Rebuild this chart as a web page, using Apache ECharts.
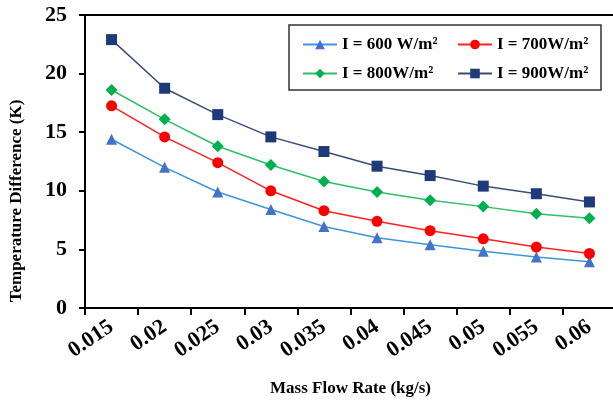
<!DOCTYPE html>
<html>
<head>
<meta charset="utf-8">
<script src="https://cdn.jsdelivr.net/npm/echarts@6/dist/echarts.min.js"></script>
<style>
  html, body { margin: 0; padding: 0; background: #fff; }
  #chart { width: 613px; height: 403px; }
</style>
</head>
<body>
<div id="chart"></div>
<script>
// mass flow rate categories (kg/s)
const massFlow = ['0.015', '0.02', '0.025', '0.03', '0.035', '0.04', '0.045', '0.05', '0.055', '0.06'];
// temperature difference (K) for each irradiance
const t600 = [14.4, 12.0, 9.9, 8.4, 6.95, 6.0, 5.4, 4.85, 4.35, 3.95];
const t700 = [17.25, 14.6, 12.4, 10.0, 8.3, 7.4, 6.6, 5.9, 5.2, 4.65];
const t800 = [18.6, 16.1, 13.8, 12.2, 10.8, 9.9, 9.2, 8.65, 8.05, 7.65];
const t900 = [22.9, 18.75, 16.5, 14.6, 13.35, 12.1, 11.3, 10.4, 9.75, 9.05];
const yTicks = [0, 5, 10, 15, 20, 25];

const chart = echarts.init(document.getElementById('chart'));
const serif = '"Liberation Serif", "Times New Roman", serif';

// 图例文字样式
const legendText = { fontFamily: serif, fontWeight: 'bold', fontSize: 17, color: '#000' };

function makeSeries(name, data, color, lineColor, symbol, size) {
  return {
    name: name,
    type: 'line',
    data: data,
    symbol: symbol,
    symbolSize: size,
    itemStyle: { color: color },
    lineStyle: { color: lineColor, width: 1.5 },
    emphasis: { disabled: true }
  };
}

const option = {
  animation: false,
  backgroundColor: '#fff',
  grid: {
    left: 85,
    top: 15,
    width: 531,
    height: 293,
    outerBoundsMode: 'none',
    containLabel: false,
    show: true,
    borderColor: '#000',
    borderWidth: 2
  },
  legend: [
    {
      data: ['I = 600 W/m²', 'I = 800W/m²'],
      orient: 'vertical',
      left: 302,
      top: 36,
      padding: 0,
      itemWidth: 34,
      itemHeight: 12,
      itemGap: 12,
      textStyle: legendText
    },
    {
      data: ['I = 700W/m²', 'I = 900W/m²'],
      orient: 'vertical',
      left: 457,
      top: 36,
      padding: 0,
      itemWidth: 34,
      itemHeight: 12,
      itemGap: 12,
      textStyle: legendText
    }
  ],
  graphic: [
    {
      type: 'rect',
      z: -1,
      shape: { x: 289, y: 25, width: 312, height: 65 },
      style: { fill: '#fff', stroke: '#333', lineWidth: 1.5 }
    },
    {
      type: 'text',
      x: 17,
      y: 201,
      rotation: Math.PI / 2,
      style: {
        text: 'Temperature Difference (K)',
        fontFamily: serif,
        fontWeight: 'bold',
        fontSize: 17,
        fill: '#000',
        textAlign: 'center',
        textVerticalAlign: 'middle',
        verticalAlign: 'middle'
      }
    }
  ],
  xAxis: {
    type: 'category',
    data: massFlow,
    boundaryGap: true,
    name: 'Mass Flow Rate (kg/s)',
    nameLocation: 'middle',
    nameGap: 72,
    nameTextStyle: { fontFamily: serif, fontWeight: 'bold', fontSize: 17, color: '#000' },
    axisLine: { lineStyle: { color: '#000', width: 2 } },
    axisTick: { show: true, length: 7, lineStyle: { color: '#000', width: 2 } },
    axisLabel: {
      rotate: 34,
      margin: 17,
      interval: 0,
      fontFamily: serif,
      fontWeight: 'bold',
      fontSize: 22,
      color: '#000'
    },
    splitLine: { show: false }
  },
  yAxis: {
    type: 'value',
    min: yTicks[0],
    max: yTicks[yTicks.length - 1],
    interval: 5,
    axisLine: { show: true, lineStyle: { color: '#000', width: 2 } },
    axisTick: { show: true, length: 6, lineStyle: { color: '#000', width: 2 } },
    axisLabel: {
      margin: 18,
      fontFamily: serif,
      fontWeight: 'bold',
      fontSize: 22,
      color: '#000'
    },
    splitLine: { show: false }
  },
  series: [
    makeSeries('I = 600 W/m²', t600, '#4472c4', '#3d95dc', 'triangle', 11),
    makeSeries('I = 700W/m²', t700, '#ff0000', '#ff2020', 'circle', 11),
    makeSeries('I = 800W/m²', t800, '#00b050', '#2cc064', 'diamond', 12),
    makeSeries('I = 900W/m²', t900, '#1f3a78', '#3a4d78', 'rect', 11)
  ]
};

chart.setOption(option);
</script>
</body>
</html>
